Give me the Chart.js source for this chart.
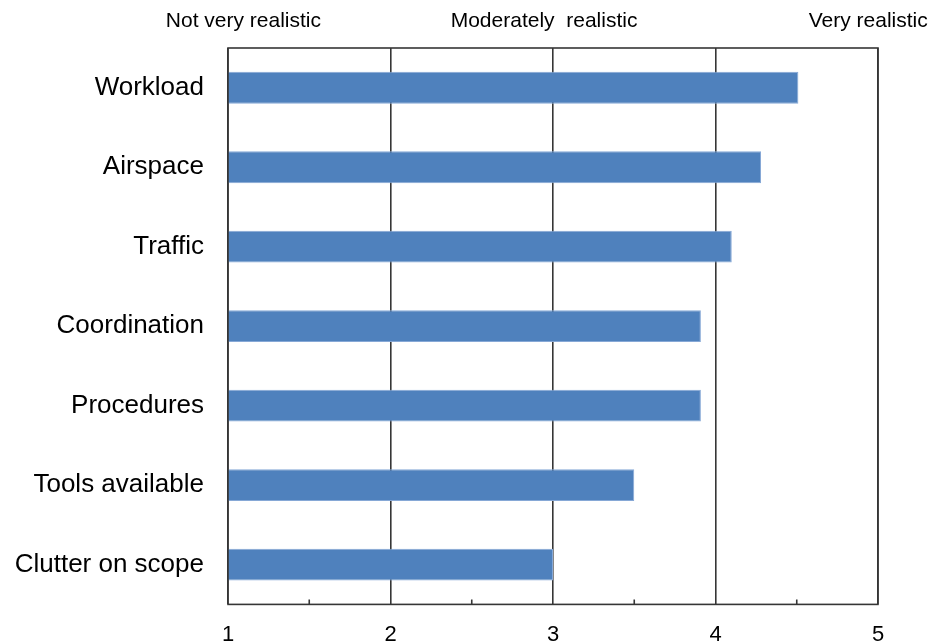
<!DOCTYPE html>
<html>
<head>
<meta charset="utf-8">
<script src="https://cdn.jsdelivr.net/npm/chart.js@4/dist/chart.umd.min.js"></script>
<style>
  html, body { margin: 0; padding: 0; background: #ffffff; }
  #wrap { width: 932px; height: 644px; position: relative; }
</style>
</head>
<body>
<div id="wrap"><canvas id="chart" width="932" height="644"></canvas></div>
<script>
// Mean realism rating per aspect of the simulation (1 = not very, 5 = very realistic)
const categories = ['Workload', 'Airspace', 'Traffic', 'Coordination', 'Procedures', 'Tools available', 'Clutter on scope'];
const ratings = [4.51, 4.28, 4.10, 3.91, 3.91, 3.50, 3.00];
const scaleLabels = ['Not very realistic', 'Moderately  realistic', 'Very realistic'];
const tickLabels = ['1', '2', '3', '4', '5'];
const minorTicks = [1.5, 2.5, 3.5, 4.5];

const FONT = '"Liberation Sans", Arial, sans-serif';
const LINE = '#363636';

// Frame, inward minor ticks and the verbal scale anchors above the plot
const decorations = {
  id: 'decorations',
  afterDraw(chart) {
    const { ctx, chartArea: a, scales } = chart;
    const x = scales.x;
    ctx.save();
    ctx.strokeStyle = LINE;
    ctx.lineWidth = 1.6;
    ctx.strokeRect(a.left, a.top, a.right - a.left, a.bottom - a.top);
    ctx.beginPath();
    minorTicks.forEach(v => {
      const px = x.getPixelForValue(v);
      ctx.moveTo(px, a.bottom);
      ctx.lineTo(px, a.bottom - 5);
    });
    ctx.stroke();

    ctx.fillStyle = '#000';
    ctx.font = '21px ' + FONT;
    ctx.textBaseline = 'alphabetic';
    ctx.textAlign = 'center';
    const anchors = [x.getPixelForValue(1.095), x.getPixelForValue(2.945), x.getPixelForValue(4.94)];
    scaleLabels.forEach((t, i) => ctx.fillText(t, anchors[i], 27));
    ctx.restore();
  }
};

new Chart(document.getElementById('chart'), {
  type: 'bar',
  data: {
    labels: categories,
    datasets: [{
      data: ratings,
      backgroundColor: '#4F81BD',
      borderColor: '#86A8D6',
      borderWidth: 1,
      borderSkipped: 'start',
      barPercentage: 0.4,
      categoryPercentage: 1.0
    }]
  },
  options: {
    indexAxis: 'y',
    responsive: false,
    animation: false,
    devicePixelRatio: 1,
    layout: { padding: { top: 48, right: 54, left: 0, bottom: 0 } },
    plugins: { legend: { display: false }, tooltip: { enabled: false } },
    scales: {
      x: {
        type: 'linear',
        min: 1,
        max: 5,
        afterFit(s) { s.height = 37; },
        border: { display: false },
        grid: { color: LINE, lineWidth: 1.6, drawTicks: false },
        ticks: {
          stepSize: 1,
          padding: 17,
          color: '#000',
          font: { family: FONT, size: 22 },
          callback: (v) => tickLabels[v - 1]
        }
      },
      y: {
        afterFit(s) { s.width = 228; },
        border: { display: false },
        grid: { display: false, drawTicks: false },
        ticks: {
          padding: 24,
          color: '#000',
          font: { family: FONT, size: 26 }
        }
      }
    }
  },
  plugins: [decorations]
});
</script>
</body>
</html>
